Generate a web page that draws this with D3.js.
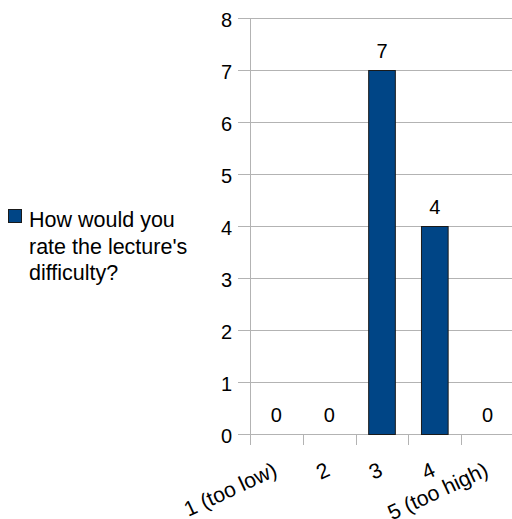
<!DOCTYPE html>
<html><head><meta charset="utf-8">
<script src="https://cdn.jsdelivr.net/npm/d3@7"></script>
<style>body{margin:0;background:#fff}svg{display:block}text{font-family:"Liberation Sans",Arial,sans-serif;fill:#000}</style>
</head><body>
<svg id="c" width="512" height="519"></svg>
<script>
const categories = ["1 (too low)", "2", "3", "4", "5 (too high)"];
const values = [0, 0, 7, 4, 0];
const yTicks = [0, 1, 2, 3, 4, 5, 6, 7, 8];
const seriesName = ["How would you", "rate the lecture's", "difficulty?"];

(function () {
const svg = d3.select("#c");
const pLeft = 250, pRight = 514, pTop = 18, pBottom = 434;
const x = d3.scaleBand().domain(categories).range([pLeft, pRight]);
const y = d3.scaleLinear().domain([0, 8]).range([pBottom, pTop]);
const fs = 20;

// gridlines
svg.append("g").selectAll("line").data(yTicks).join("line")
  .attr("x1", 238).attr("x2", 512)
  .attr("y1", d => y(d) + 0.5).attr("y2", d => y(d) + 0.5)
  .attr("stroke", "#b3b3b3").attr("stroke-width", 1);

// y axis line
svg.append("line").attr("x1", pLeft + 0.5).attr("x2", pLeft + 0.5)
  .attr("y1", pTop).attr("y2", pBottom).attr("stroke", "#b3b3b3");

// x ticks
const xt = categories.map(c => x(c)).concat([pRight]);
svg.append("g").selectAll("line").data(xt).join("line")
  .attr("x1", d => Math.round(d) + 0.5).attr("x2", d => Math.round(d) + 0.5)
  .attr("y1", pBottom).attr("y2", pBottom + 11)
  .attr("stroke", "#b3b3b3");

// y tick labels
svg.append("g").selectAll("text").data(yTicks).join("text")
  .attr("x", 232).attr("y", d => y(d) + 8.5)
  .attr("text-anchor", "end").attr("font-size", fs).text(d => d);

// bars
const bw = x.bandwidth() * 0.505;
svg.append("g").selectAll("rect").data(values.map((v, i) => ({v, c: categories[i]})).filter(d => d.v > 0)).join("rect")
  .attr("x", d => x(d.c) + (x.bandwidth() - bw) / 2)
  .attr("y", d => y(d.v) + 0.5)
  .attr("width", bw).attr("height", d => y(0) - y(d.v))
  .attr("fill", "#004586").attr("stroke", "#1a1a1a").attr("stroke-width", 1);

// value labels
svg.append("g").selectAll("text").data(values.map((v, i) => ({v, c: categories[i]}))).join("text")
  .attr("x", d => x(d.c) + x.bandwidth() / 2)
  .attr("y", d => y(d.v) - 12.5)
  .attr("text-anchor", "middle").attr("font-size", fs).text(d => d.v);

// x labels rotated
svg.append("g").selectAll("text").data(categories).join("text")
  .attr("transform", d => `translate(${x(d) + x.bandwidth() / 2 + 2},${pBottom + 41}) rotate(-25)`)
  .attr("text-anchor", "end").attr("font-size", 21.3).text(d => d);

// legend
svg.append("rect").attr("x", 8.5).attr("y", 209.5).attr("width", 13).attr("height", 13)
  .attr("fill", "#004586").attr("stroke", "#1a1a1a");
svg.append("g").selectAll("text").data(seriesName).join("text")
  .attr("x", 29).attr("y", (d, i) => 227 + i * 26.5)
  .attr("font-size", 21.5).text(d => d);
})();
</script>
</body></html>
